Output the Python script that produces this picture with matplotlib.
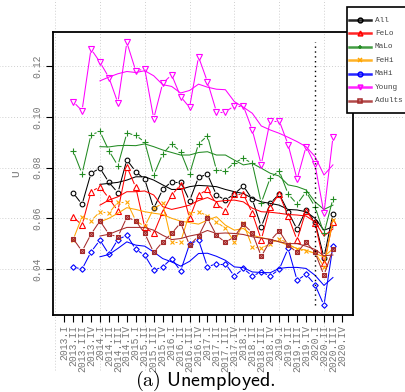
import numpy as np
import matplotlib
matplotlib.use("Agg")
from matplotlib import pyplot as plt
from matplotlib.collections import LineCollection
from matplotlib.lines import Line2D
from matplotlib.patches import Rectangle

plt.rcParams['mathtext.fontset'] = 'cm'
MONO = 'Liberation Mono'
W, H = 406, 392

# quarters on the x axis (positions 1..32), observations start at 2013.II
quarters = [f'{y}.{q}' for y in range(2013, 2021) for q in ['I', 'II', 'III', 'IV']]
obs_pos = np.arange(2, 32)
trend_pos = np.arange(5, 32)
covid_pos = 29

# unemployment rate by group, 2013.II - 2020.III
u_all = [0.0701, 0.0655, 0.0778, 0.0798, 0.0742, 0.0701, 0.0831, 0.0784, 0.0754, 0.0639,
         0.0714, 0.0745, 0.0745, 0.0669, 0.0762, 0.0774, 0.0692, 0.0672, 0.0696, 0.0728,
         0.0675, 0.0566, 0.0659, 0.0696, 0.0626, 0.0556, 0.0633, 0.0586, 0.0445, 0.0617]
u_felo = [0.0606, 0.0573, 0.0705, 0.0725, 0.0679, 0.0629, 0.0804, 0.0722, 0.0564, 0.0540,
          0.0626, 0.0692, 0.0732, 0.0600, 0.0692, 0.0714, 0.0656, 0.0630, 0.0696, 0.0696,
          0.0620, 0.0516, 0.0646, 0.0696, 0.0609, 0.0514, 0.0630, 0.0582, 0.0422, 0.0586]
u_malo = [0.0867, 0.0776, 0.0930, 0.0943, 0.0867, 0.0808, 0.0936, 0.0928, 0.0901, 0.0771,
          0.0854, 0.0894, 0.0863, 0.0775, 0.0894, 0.0926, 0.0791, 0.0788, 0.0820, 0.0837,
          0.0817, 0.0661, 0.0759, 0.0788, 0.0696, 0.0656, 0.0705, 0.0646, 0.0540, 0.0677]
u_fehi = [0.0515, 0.0606, 0.0590, 0.0626, 0.0620, 0.0665, 0.0665, 0.0590, 0.0568, 0.0639,
          0.0659, 0.0507, 0.0507, 0.0620, 0.0626, 0.0610, 0.0586, 0.0560, 0.0507, 0.0580,
          0.0487, 0.0481, 0.0500, 0.0520, 0.0500, 0.0477, 0.0470, 0.0465, 0.0408, 0.0593]
u_mahi = [0.0408, 0.0399, 0.0467, 0.0514, 0.0458, 0.0516, 0.0533, 0.0477, 0.0454, 0.0395,
          0.0408, 0.0441, 0.0392, 0.0498, 0.0514, 0.0408, 0.0421, 0.0421, 0.0371, 0.0402,
          0.0372, 0.0388, 0.0372, 0.0398, 0.0481, 0.0355, 0.0379, 0.0338, 0.0256, 0.0490]
u_young = [0.1061, 0.1025, 0.1269, 0.1217, 0.1156, 0.1056, 0.1295, 0.1182, 0.1190, 0.0994,
           0.1133, 0.1167, 0.1081, 0.1038, 0.1238, 0.1139, 0.1021, 0.1021, 0.1044, 0.1044,
           0.0949, 0.0812, 0.0986, 0.0986, 0.0891, 0.0754, 0.0883, 0.0813, 0.0620, 0.0920]
u_adults = [0.0520, 0.0470, 0.0537, 0.0590, 0.0537, 0.0527, 0.0604, 0.0590, 0.0540, 0.0465,
            0.0507, 0.0540, 0.0582, 0.0494, 0.0530, 0.0600, 0.0533, 0.0505, 0.0527, 0.0577,
            0.0543, 0.0450, 0.0511, 0.0551, 0.0494, 0.0465, 0.0507, 0.0465, 0.0375, 0.0477]

# four-quarter trend, 2014.I - 2020.III
t_all = [0.0734, 0.0738, 0.0742, 0.0751, 0.0764, 0.0764, 0.0751, 0.0732, 0.0714, 0.0714,
         0.0725, 0.0730, 0.0728, 0.0725, 0.0714, 0.0705, 0.0698, 0.0679, 0.0665, 0.0659,
         0.0652, 0.0635, 0.0633, 0.0626, 0.0600, 0.0553, 0.0566]
t_felo = [0.0652, 0.0672, 0.0685, 0.0705, 0.0705, 0.0708, 0.0692, 0.0646, 0.0635, 0.0643,
          0.0652, 0.0670, 0.0682, 0.0666, 0.0670, 0.0672, 0.0665, 0.0640, 0.0626, 0.0624,
          0.0620, 0.0615, 0.0613, 0.0609, 0.0586, 0.0530, 0.0558]
t_malo = [0.0883, 0.0882, 0.0887, 0.0888, 0.0887, 0.0894, 0.0883, 0.0870, 0.0860, 0.0850,
          0.0850, 0.0860, 0.0863, 0.0850, 0.0850, 0.0830, 0.0811, 0.0817, 0.0798, 0.0778,
          0.0767, 0.0732, 0.0725, 0.0712, 0.0665, 0.0635, 0.0652]
t_fehi = [0.0586, 0.0600, 0.0620, 0.0642, 0.0635, 0.0626, 0.0620, 0.0615, 0.0600, 0.0589,
          0.0583, 0.0577, 0.0593, 0.0606, 0.0573, 0.0553, 0.0560, 0.0533, 0.0524, 0.0516,
          0.0507, 0.0494, 0.0481, 0.0474, 0.0461, 0.0448, 0.0480]
t_mahi = [0.0448, 0.0457, 0.0481, 0.0507, 0.0494, 0.0490, 0.0467, 0.0441, 0.0428, 0.0411,
          0.0430, 0.0461, 0.0462, 0.0450, 0.0434, 0.0408, 0.0405, 0.0388, 0.0386, 0.0385,
          0.0402, 0.0406, 0.0406, 0.0402, 0.0375, 0.0335, 0.0366]
t_young = [0.1143, 0.1158, 0.1171, 0.1180, 0.1176, 0.1183, 0.1163, 0.1128, 0.1121, 0.1095,
           0.1105, 0.1130, 0.1118, 0.1110, 0.1108, 0.1061, 0.1039, 0.1015, 0.0965, 0.0949,
           0.0936, 0.0920, 0.0903, 0.0883, 0.0844, 0.0771, 0.0811]
t_adults = [0.0530, 0.0537, 0.0551, 0.0564, 0.0564, 0.0564, 0.0553, 0.0533, 0.0516, 0.0520,
            0.0530, 0.0537, 0.0552, 0.0540, 0.0542, 0.0540, 0.0536, 0.0527, 0.0522, 0.0517,
            0.0507, 0.0500, 0.0500, 0.0490, 0.0477, 0.0452, 0.0455]

groups = ['All', 'FeLo', 'MaLo', 'FeHi', 'MaHi', 'Young', 'Adults']
obs = [u_all, u_felo, u_malo, u_fehi, u_mahi, u_young, u_adults]
trend = [t_all, t_felo, t_malo, t_fehi, t_mahi, t_young, t_adults]
colors = ['black', 'red', 'forestgreen', 'orange', 'blue', 'magenta', 'brown']
markers = ['o', '^', '+', 'x', 'D', 'v', 's']
msize = {'o': 3.4, '^': 3.8, '+': 4.6, 'x': 3.4, 'D': 2.8, 'v': 3.8, 's': 3.4}
legend_markers = ['o', '^', '+', 'x', 'o', 'v', 's']


def gapped(ax, x, y, gap):
    # line pieces between points, cut back near each point
    pts = ax.transData.transform(np.column_stack([x, y]))
    inv = ax.transData.inverted()
    segs = []
    for p0, p1 in zip(pts[:-1], pts[1:]):
        d = p1 - p0
        n = np.hypot(*d)
        if n <= 2 * gap:
            continue
        u = d / n
        segs.append(inv.transform(np.array([p0 + u * gap, p1 - u * gap])))
    return segs


def fpx(x, y):
    return x / W, 1 - y / H


fig = plt.figure(figsize=(W / 100, H / 100), dpi=100)
ax = fig.add_axes([53 / W, 1 - 315 / H, 300 / W, 283 / H])
ax.set_xlim(-0.24, 33.24)
ax.set_ylim(0.0218, 0.1336)

# dotted grid running over the whole figure
for gx in range(0, 31, 5):
    ax.axvline(gx, ymin=-0.195, ymax=1.12, color='#cfcfcf', lw=0.7, ls=(0, (1, 2)),
               clip_on=False, zorder=0)
for gy in [0.04, 0.06, 0.08, 0.10, 0.12]:
    ax.axhline(gy, xmin=-0.18, xmax=1.18, color='#cfcfcf', lw=0.7, ls=(0, (1, 2)),
               clip_on=False, zorder=0)

for vals, tr, c, m in zip(obs, trend, colors, markers):
    ax.add_collection(LineCollection(gapped(ax, obs_pos, vals, 3.6), colors=c, lw=0.75))
    ax.plot(obs_pos, vals, ls='none', marker=m, ms=msize[m], mfc='none', mec=c, mew=0.8)
    if m == 's':
        ax.plot(obs_pos, vals, ls='none', marker='x', ms=3.0, mec=c, mew=0.8)
    ax.plot(trend_pos, tr, color=c, lw=0.75)

allvals = np.concatenate([np.array(v) for v in obs])
ax.vlines(covid_pos, allvals.min(), allvals.max(), colors='black', lw=1.0,
          linestyles=(0, (1, 2.5)))

ax.set_xticks(np.arange(1, 33))
ax.set_xticklabels(quarters, rotation=90, family=MONO, fontsize=7, color='#777777',
                   va='top', ha='center')
ax.set_yticks([0.04, 0.06, 0.08, 0.10, 0.12])
ax.set_yticklabels(['0.04', '0.06', '0.08', '0.10', '0.12'], rotation=90, family=MONO,
                   fontsize=7, color='#777777', va='center')
ax.tick_params(axis='x', length=5, width=0.8, pad=2)
ax.tick_params(axis='y', length=5, width=0.8, pad=3)
ax.set_ylabel('U', family=MONO, fontsize=8, color='#777777', labelpad=8)
for sp in ax.spines.values():
    sp.set_linewidth(1.3)

# legend box, partly running off the right edge
fig.patches.append(Rectangle(fpx(347, 113), 80 / W, 106 / H, transform=fig.transFigure,
                             facecolor='white', edgecolor='black', lw=1.2, zorder=5))
for i, (g, c, m) in enumerate(zip(groups, colors, legend_markers)):
    yy = 20 + 13.45 * i
    (x0, y0), (x1, _) = fpx(349, yy), fpx(371, yy)
    fig.add_artist(Line2D([x0, x1], [y0, y0], transform=fig.transFigure, color=c,
                          lw=1.8, alpha=0.85, zorder=6))
    fig.add_artist(Line2D([(x0 + x1) / 2], [y0], transform=fig.transFigure, color=c,
                          marker=m, ms=3.4, mfc='none', mew=1.1, zorder=7))
    fig.text(375 / W, y0, g, family=MONO, fontsize=5.6, color='#444444',
             va='center', ha='left', zorder=7)

fig.text(205 / W, 1 - 385.5 / H, r'$\mathrm{(a)}\ \mathsf{Unemployed.}$',
         ha='center', va='baseline', fontsize=14.5)

fig.savefig('out.png', dpi=100)
